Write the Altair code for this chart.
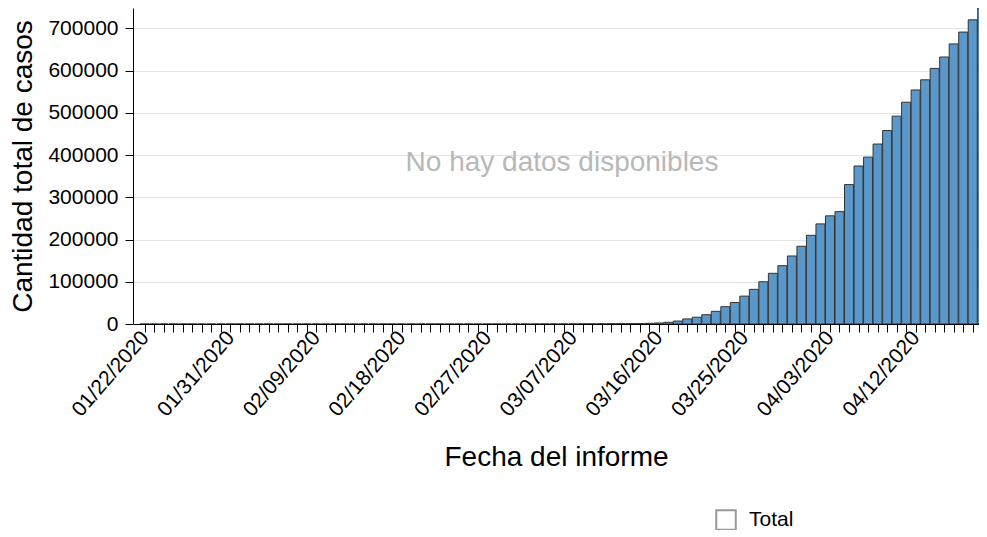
import altair as alt
import pandas as pd

FONT = "Liberation Sans"

# ---- data ----
start_date = "2020-01-22"
n_days = 89
dates = [d.strftime("%Y-%m-%d") for d in pd.date_range(start_date, periods=n_days, freq="D")]

early_cases = [1, 1, 2, 2, 5, 5, 5, 5, 5, 7, 8, 8, 11, 11, 11, 11, 12, 12, 12, 12,
               13, 13, 14, 14, 14, 14, 14, 14, 14, 15, 15, 15, 15, 16, 16, 17, 18, 20, 25, 32,
               45, 60, 80, 100, 150, 220, 300, 400, 520, 650, 800, 900]
late_cases = [1000, 1600, 2400, 4000, 7000, 12000, 16000, 22000, 30000, 41000,
              51000, 66000, 82000, 100000, 120000, 138000, 161000, 184000, 210000, 237000,
              256000, 266000, 330000, 374000, 395000, 426000, 458000, 492000, 525000, 554000,
              578000, 605000, 632000, 663000, 691000, 720000, 748000]
cases = early_cases + late_cases
series = ["Total"] * n_days
y_ticks = [0, 100000, 200000, 300000, 400000, 500000, 600000, 700000]
no_data_text = ["No hay datos disponibles"]

df = pd.DataFrame({"fecha": dates, "casos": cases, "serie": series})

DAY = 86400000
tick_ms = [int(pd.Timestamp(d).timestamp() * 1000) for d in dates]
t0 = tick_ms[0]

W, H = 846, 316
STEP = 9.63          # pixels per day in the reference
FIRST = 6.9          # offset of first bar centre from the y axis
dom_start = t0 - FIRST / STEP * DAY
dom_end = dom_start + W / STEP * DAY

label_expr = (
    f"(round((datum.value - {t0}) / {DAY}) % 9 === 0) ? utcFormat(datum.value, '%m/%d/%Y') : ''"
)

x_enc = alt.X(
    "fecha:T",
    scale=alt.Scale(type="utc", domain=[dom_start, dom_end]),
    axis=alt.Axis(
        values=tick_ms,
        labelExpr=label_expr,
        labelAngle=-49,
        labelFontSize=21,
        labelFont=FONT,
        labelColor="black",
        labelOverlap=False,
        labelFlush=False,
        labelPadding=2,
        tickSize=8,
        tickColor="black",
        domainColor="black",
        grid=False,
        title="Fecha del informe",
        titleFontSize=28,
        titleFont=FONT,
        titleFontWeight="normal",
        titleColor="black",
        titlePadding=24,
    ),
)
y_enc = alt.Y(
    "casos:Q",
    scale=alt.Scale(domain=[0, 748000], nice=False),
    axis=alt.Axis(
        values=y_ticks,
        format="d",
        labelFontSize=21,
        labelFont=FONT,
        labelColor="black",
        labelPadding=7,
        tickSize=8,
        tickColor="black",
        domainColor="black",
        grid=True,
        gridColor="#e3e3e3",
        title="Cantidad total de casos",
        titleFontSize=28,
        titleFont=FONT,
        titleFontWeight="normal",
        titleColor="black",
        titlePadding=10,
    ),
)

bars = alt.Chart(df).mark_bar(
    size=9, fill="#5b97c8", stroke="#333333", strokeWidth=1, clip=True
).encode(x=x_enc, y=y_enc)

# layer that only provides the series legend (its own points sit outside the clipped view)
legend_layer = alt.Chart(df).mark_point(
    shape="square", filled=False, color="#999999", strokeWidth=2,
    size=380, opacity=1, clip=True
).encode(
    x=x_enc,
    y=alt.value(-200),
    shape=alt.Shape(
        "serie:N",
        scale=alt.Scale(range=["square"]),
        legend=alt.Legend(
            title=None,
            orient="none",
            legendX=582,
            legendY=501,
            symbolType="square",
            symbolSize=380,
            symbolStrokeColor="#999999",
            symbolStrokeWidth=2,
            symbolOpacity=1,
            labelFontSize=21,
            labelFont=FONT,
            labelColor="black",
            labelOffset=12,
            padding=0,
        ),
    ),
)

note = alt.Chart(pd.DataFrame({"t": no_data_text})).mark_text(
    fontSize=28, font=FONT, color="#b8b8b8"
).encode(text="t:N", x=alt.value(429), y=alt.value(155))

chart = alt.layer(bars, legend_layer, note).properties(
    width=W,
    height=H,
    padding={"left": 125, "top": 0, "right": 0, "bottom": 206},
    autosize=alt.AutoSizeParams(type="none"),
).configure_view(stroke=None)

chart.save("out.html", embed_options={"renderer": "svg", "actions": False})
